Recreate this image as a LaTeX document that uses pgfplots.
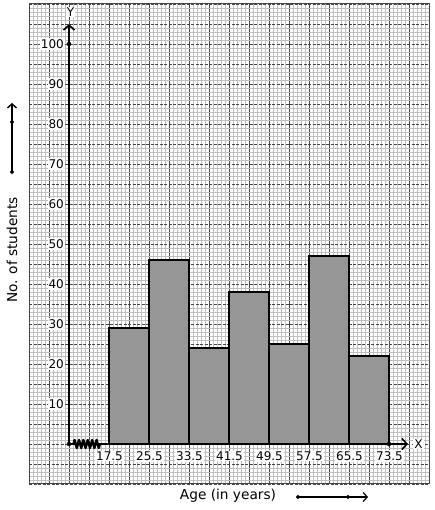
\documentclass[border=0pt]{standalone}
\usepackage{pgfplots}
\pgfplotsset{compat=1.18}
\usepackage{fontspec}
\setmainfont{DejaVu Sans}
\usetikzlibrary{arrows.meta,decorations.pathmorphing}
\definecolor{barfill}{RGB}{150,150,150}
\definecolor{majgrid}{RGB}{70,70,70}
\definecolor{mingrid}{RGB}{192,192,192}
\begin{document}
\begin{tikzpicture}[font=\fontsize{12}{14}\selectfont]
\begin{axis}[
 scale only axis, width=400pt, height=480pt,
 xmin=1.5, xmax=81.5, ymin=-10, ymax=110,
 xtick={1.5,5.5,...,81.5}, ytick={-10,-5,...,110},
 minor x tick num=4, minor y tick num=4,
 xticklabels={}, yticklabels={},
 major tick length=0pt, minor tick length=0pt,
 grid=both,
 minor grid style={mingrid, line width=0.7pt},
 major x grid style={majgrid, line width=0.9pt},
 major y grid style={majgrid, line width=0.9pt, dash pattern=on 3pt off 1.5pt},
 axis line style={majgrid, line width=1pt},
 clip=false,
]
\path (axis cs:-4.3,-16.5) rectangle (axis cs:82.5,111);
% histogram bars
\addplot[ybar interval, fill=barfill, draw=black, line width=1.1pt]
  coordinates {(17.5,29) (25.5,46) (33.5,24) (41.5,38) (49.5,25) (57.5,47) (65.5,22) (73.5,22)};
% axes
\addplot[line width=2.2pt, -{Straight Barb[length=5pt,width=11pt,line width=1.6pt]}]
  coordinates {(9.5,0) (9.5,105)};
\addplot[line width=2.2pt, -{Straight Barb[length=5pt,width=11pt,line width=1.6pt]}]
  coordinates {(9.5,0) (77.3,0)};
\draw[line width=2.4pt, line join=round, decorate, decoration={zigzag, segment length=4.4pt, amplitude=4pt}]
  (axis cs:10.4,0) -- (axis cs:15.8,0);
\addplot[only marks, mark=*, mark size=2pt, black] coordinates {(9.5,0) (9.5,100) (73.5,0)};
% y labels
\node[anchor=east, fill=white, inner sep=1pt] at (axis cs:8.7,10) {10};
\node[anchor=east, fill=white, inner sep=1pt] at (axis cs:8.7,20) {20};
\node[anchor=east, fill=white, inner sep=1pt] at (axis cs:8.7,30) {30};
\node[anchor=east, fill=white, inner sep=1pt] at (axis cs:8.7,40) {40};
\node[anchor=east, fill=white, inner sep=1pt] at (axis cs:8.7,50) {50};
\node[anchor=east, fill=white, inner sep=1pt] at (axis cs:8.7,60) {60};
\node[anchor=east, fill=white, inner sep=1pt] at (axis cs:8.7,70) {70};
\node[anchor=east, fill=white, inner sep=1pt] at (axis cs:8.7,80) {80};
\node[anchor=east, fill=white, inner sep=1pt] at (axis cs:8.7,90) {90};
\node[anchor=east, fill=white, inner sep=1pt] at (axis cs:8.7,100) {100};
% x labels
\node[fill=white, inner sep=1pt] at (axis cs:17.6,-3) {17.5};
\node[fill=white, inner sep=1pt] at (axis cs:25.6,-3) {25.5};
\node[fill=white, inner sep=1pt] at (axis cs:33.6,-3) {33.5};
\node[fill=white, inner sep=1pt] at (axis cs:41.6,-3) {41.5};
\node[fill=white, inner sep=1pt] at (axis cs:49.6,-3) {49.5};
\node[fill=white, inner sep=1pt] at (axis cs:57.6,-3) {57.5};
\node[fill=white, inner sep=1pt] at (axis cs:65.6,-3) {65.5};
\node[fill=white, inner sep=1pt] at (axis cs:73.6,-3) {73.5};
\node[fill=white, inner sep=1pt] at (axis cs:9.8,108) {Y};
\node[fill=white, inner sep=1pt] at (axis cs:79.4,0) {X};
% axis titles
\node[fill=white, inner sep=1pt, font=\fontsize{13.7}{16}\selectfont] at (axis cs:41.3,-13) {Age (in years)};
\addplot[line width=1.4pt, -{Straight Barb[length=4pt,width=9pt,line width=1.2pt]}]
  coordinates {(55.3,-13.25) (69.3,-13.25)};
\addplot[only marks, mark=*, mark size=1.8pt, black] coordinates {(55.3,-13.25) (65.3,-13.25)};
\node[rotate=90, font=\fontsize{13.7}{16}\selectfont] at (axis cs:-1.9,48.5) {No. of students};
\addplot[line width=1.8pt, -{Straight Barb[length=4pt,width=9pt,line width=1.4pt]}]
  coordinates {(-1.9,68) (-1.9,85.25)};
\addplot[only marks, mark=*, mark size=1.8pt, black] coordinates {(-1.9,68) (-1.9,80.5)};
\end{axis}
\end{tikzpicture}
\end{document}
